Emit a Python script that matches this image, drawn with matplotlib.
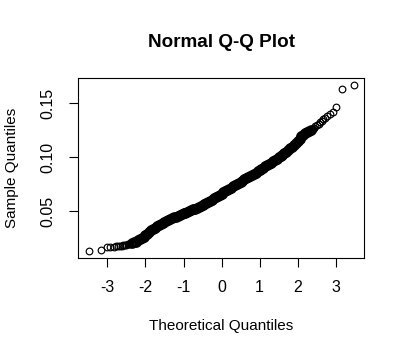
import matplotlib
matplotlib.use("Agg")
from matplotlib import pyplot as plt

plt.rcParams['font.family'] = ['Liberation Sans', 'DejaVu Sans']
plt.rcParams['axes.unicode_minus'] = False

# lower tail, read point by point
tail_lo_x = [-3.48, -3.17, -3.02, -2.92, -2.84, -2.78, -2.72, -2.67, -2.63, -2.59,
             -2.55, -2.51, -2.47, -2.44, -2.41]
tail_lo_y = [0.0128, 0.0139, 0.0163, 0.0168, 0.0170, 0.0172, 0.0176, 0.0178, 0.0180, 0.0182,
             0.0185, 0.0188, 0.0192, 0.0195, 0.0199]

# dense middle band, theoretical quantiles -2.35 .. 2.35
band_x = [round(-2.35 + 0.05 * i, 2) for i in range(95)]
band_y = [0.0204, 0.0209, 0.0217, 0.0227, 0.0238, 0.0250, 0.0263, 0.0277, 0.0291, 0.0305,
          0.0321, 0.0334, 0.0346, 0.0358, 0.0369, 0.0380, 0.0390, 0.0399, 0.0408, 0.0416,
          0.0424, 0.0432, 0.0440, 0.0447, 0.0455, 0.0462, 0.0470, 0.0477, 0.0485, 0.0492,
          0.0500, 0.0507, 0.0515, 0.0523, 0.0531, 0.0539, 0.0547, 0.0556, 0.0565, 0.0575,
          0.0585, 0.0595, 0.0606, 0.0617, 0.0628, 0.0639, 0.0650, 0.0662, 0.0673, 0.0684,
          0.0695, 0.0706, 0.0717, 0.0728, 0.0739, 0.0750, 0.0761, 0.0771, 0.0781, 0.0792,
          0.0802, 0.0813, 0.0823, 0.0834, 0.0845, 0.0856, 0.0867, 0.0880, 0.0891, 0.0902,
          0.0913, 0.0924, 0.0935, 0.0947, 0.0959, 0.0971, 0.0983, 0.0996, 0.1009, 0.1022,
          0.1036, 0.1050, 0.1065, 0.1081, 0.1097, 0.1114, 0.1132, 0.1150, 0.1170, 0.1195,
          0.1208, 0.1222, 0.1234, 0.1244, 0.1254]

# upper tail
tail_hi_x = [2.41, 2.44, 2.47, 2.51, 2.55, 2.59, 2.63, 2.67, 2.72, 2.78,
             2.84, 2.92, 3.02, 3.17, 3.48]
tail_hi_y = [0.1262, 0.1272, 0.1283, 0.1295, 0.1310, 0.1322, 0.1335, 0.1348, 0.1360, 0.1380,
             0.1400, 0.1420, 0.1466, 0.1627, 0.1664]

x_ticks = [-3, -2, -1, 0, 1, 2, 3]
y_ticks = [0.05, 0.10, 0.15]

fig = plt.figure(figsize=(4.05, 3.56), dpi=100)
ax = fig.add_axes([0.1926, 0.2753, 0.7069, 0.5047])

# tails: single open circles; band: same circles, heavier so the overlap reads solid
ax.plot(tail_lo_x + tail_hi_x, tail_lo_y + tail_hi_y, linestyle='none', marker='o',
        markersize=4.8, markerfacecolor='none', markeredgecolor='black', markeredgewidth=0.85)
ax.plot(band_x, band_y, linestyle='none', marker='o',
        markersize=5.8, markerfacecolor='none', markeredgecolor='black', markeredgewidth=1.9)

ax.set_xlim(-3.774, 3.753)
ax.set_ylim(0.00648, 0.1729)
ax.set_xticks(x_ticks)
ax.set_xticklabels([str(t) for t in x_ticks])
ax.set_yticks(y_ticks)
ax.set_yticklabels(['%.2f' % t for t in y_ticks])

for s in ax.spines.values():
    s.set_linewidth(0.8)
ax.tick_params(direction='out', length=6.2, width=0.8, labelsize=11.5, pad=10)
for lab in ax.get_yticklabels():
    lab.set_rotation(90)
    lab.set_va('center')

ax.set_title("Normal Q-Q Plot", fontsize=13.6, fontweight='bold', y=1.0 + 36.3 / 180.0,
             va='center', pad=0)

ax.set_xlabel("Theoretical Quantiles", fontsize=11)
ax.xaxis.set_label_coords(0.5, (258 - 326) / 180.0)
ax.xaxis.label.set_va('center')
ax.set_ylabel("Sample Quantiles", fontsize=11)
ax.yaxis.set_label_coords((12 - 78.3) / 286.0, 0.5)
ax.yaxis.label.set_va('center')

fig.savefig("out.png", dpi=100)
